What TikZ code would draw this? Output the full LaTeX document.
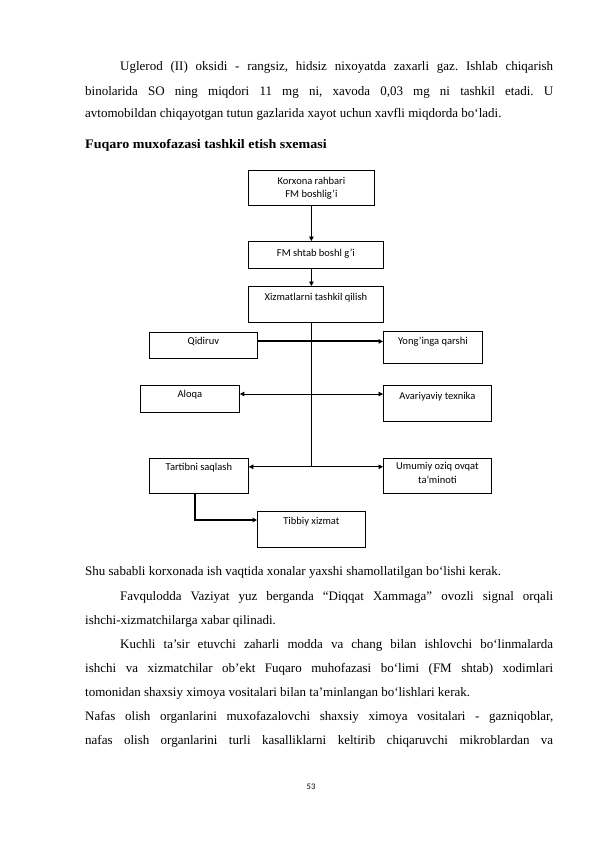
\documentclass[tikz,border=0pt]{standalone}
\usepackage{fontspec}
\usepackage{graphicx}
\setmainfont{Liberation Serif}
\newfontfamily\boxfont{Carlito}
\usetikzlibrary{arrows.meta,calc}
\begin{document}
\frenchspacing
\begin{tikzpicture}[x=1pt,y=1pt,
  body/.style={anchor=base west,inner sep=0pt,font=\fontsize{13}{15}\selectfont},
  bx/.style={draw,line width=0.8pt,anchor=north west,inner sep=0pt},
  lbl/.style={inner sep=0pt,font=\boxfont\fontsize{10.5}{13}\selectfont,anchor=base},
  conn/.style={line width=0.8pt},
  thk/.style={line width=2pt},
  arr/.style={-{Triangle[length=4.5pt,width=4.5pt]}},
  darr/.style={{Triangle[length=4.5pt,width=4.5pt]}-{Triangle[length=4.5pt,width=4.5pt]}}
]
\useasboundingbox (0,0) rectangle (595,-842);
\fill[white] (0,0) rectangle (595,-842);

% body text top
\node[body] (l1) at (120,-71) {\makebox[433pt][s]{Uglerod (II) oksidi - rangsiz, hidsiz nixoyatda zaxarli gaz. Ishlab chiqarish}};
\node[body] (l2) at (85,-96) {\makebox[468pt][s]{binolarida SO ning miqdori 11 mg ni, xavoda 0,03 mg ni tashkil etadi. U}};
\node[body] (l3) at (85,-118) {avtomobildan chiqayotgan tutun gazlarida xayot uchun xavfli miqdorda bo‘ladi.};
\node[body,font=\fontsize{13}{15}\selectfont\bfseries] (ttl) at (85,-149) {\scalebox{1.08}[1]{Fuqaro muxofazasi tashkil etish sxemasi}};

% boxes
\node[bx,minimum width=126pt,minimum height=35pt] (kr) at (248,-170) {};
\node[lbl] (krt) at ([yshift=-14.5pt]kr.north) {Korxona rahbari};
\node[lbl] (krt2) at ([yshift=-27.5pt]kr.north) {FM boshlig’i};
\node[bx,minimum width=135pt,minimum height=27pt] (fs) at (248,-241) {};
\node[lbl] (fst) at ([yshift=-15.5pt]fs.north) {FM shtab boshl g’i};
\node[bx,minimum width=135pt,minimum height=36pt] (xt) at (248,-286) {};
\node[lbl] (xtt) at ([yshift=-14.5pt]xt.north) {Xizmatlarni tashkil qilish};

\node[bx,minimum width=108pt,minimum height=26pt] (qd) at (149,-332) {};
\node[lbl] (qdt) at ([yshift=-12.5pt]qd.north) {Qidiruv};
\node[bx,minimum width=99pt,minimum height=32pt] (yq) at (383,-331) {};
\node[lbl] (yqt) at ([yshift=-13.5pt]yq.north) {Yong’inga qarshi};

\node[bx,minimum width=99pt,minimum height=27pt] (al) at (140,-385) {};
\node[lbl] (alt) at ([yshift=-12.5pt]al.north) {Aloqa};
\node[bx,minimum width=108pt,minimum height=36pt] (av) at (383,-385) {};
\node[lbl] (avt) at ([yshift=-14.5pt]av.north) {Avariyaviy texnika};

\node[bx,minimum width=99pt,minimum height=35pt] (ts) at (149,-458) {};
\node[lbl] (tst) at ([yshift=-12.5pt]ts.north) {Tartibni saqlash};
\node[bx,minimum width=108pt,minimum height=35pt] (um) at (383,-458) {};
\node[lbl] (umt) at ([yshift=-11.5pt]um.north) {Umumiy oziq ovqat};
\node[lbl] (umt2) at ([yshift=-25pt]um.north) {ta’minoti};

\node[bx,minimum width=108pt,minimum height=36pt] (tb) at (257,-511) {};
\node[lbl] (tbt) at ([yshift=-13.5pt]tb.north) {Tibbiy xizmat};

% connectors
\draw[conn,arr] (kr.south) -- (kr.south |- fs.north);
\draw[conn,arr] (kr.south |- fs.south) -- (kr.south |- xt.north);
\coordinate (t3) at ($(kr.south |- xt.south)+(0,-144)$);
\draw[conn] (kr.south |- xt.south) -- (t3);
\coordinate (r1) at ([yshift=4pt]qd.east);
\draw[thk,arr] (r1) -- (r1 -| yq.west);
\coordinate (r2) at ([yshift=-9pt]al.north east);
\draw[conn,darr] (r2) -- (r2 -| av.west);
\draw[conn,arr] (t3) -- (t3 -| ts.east);
\draw[conn,arr] (t3) -- (t3 -| um.west);
\coordinate (r4) at ([yshift=-9pt]tb.north west);
\draw[thk,arr] ([xshift=-4pt]ts.south) |- (r4);

% body text bottom
\node[body] (m1) at (85,-575) {Shu sababli korxonada ish vaqtida xonalar yaxshi shamollatilgan bo‘lishi kerak.};
\node[body] (m2) at (120,-600) {\makebox[433pt][s]{Favqulodda Vaziyat yuz berganda “Diqqat Xammaga” ovozli signal orqali}};
\node[body] (m3) at (85,-624) {ishchi-xizmatchilarga xabar qilinadi.};
\node[body] (m4) at (120,-648) {\makebox[433pt][s]{Kuchli ta’sir etuvchi zaharli modda va chang bilan ishlovchi bo‘linmalarda}};
\node[body] (m5) at (85,-672) {\makebox[468pt][s]{ishchi va xizmatchilar ob’ekt Fuqaro muhofazasi bo‘limi (FM shtab) xodimlari}};
\node[body] (m6) at (85,-696) {tomonidan shaxsiy ximoya vositalari bilan ta’minlangan bo‘lishlari kerak.};
\node[body] (m7) at (85,-720) {\makebox[468pt][s]{Nafas olish organlarini muxofazalovchi shaxsiy ximoya vositalari - gazniqoblar,}};
\node[body] (m8) at (85,-744) {\makebox[468pt][s]{nafas olish organlarini turli kasalliklarni keltirib chiqaruvchi mikroblardan va}};
\node[inner sep=0pt,anchor=base,font=\boxfont\fontsize{8.5}{10}\selectfont] (pg) at (311,-789) {53};
\end{tikzpicture}
\end{document}
